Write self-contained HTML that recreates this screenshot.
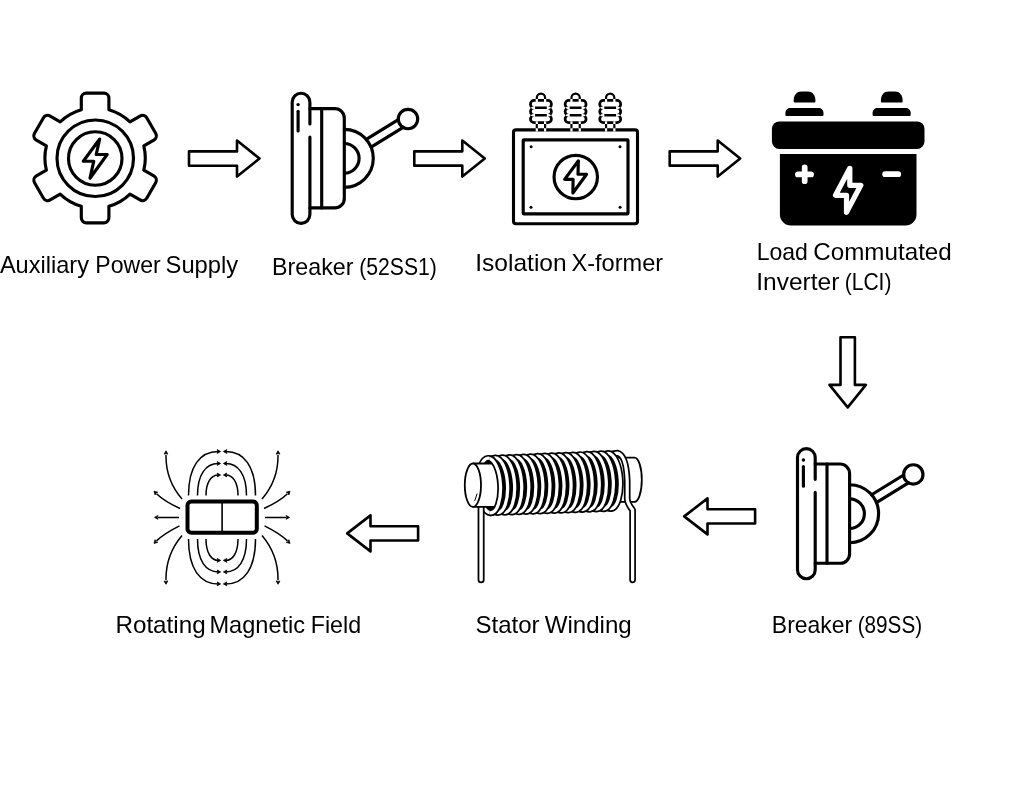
<!DOCTYPE html>
<html><head><meta charset="utf-8"><style>
html,body{margin:0;padding:0;background:#fff;width:1024px;height:800px;overflow:hidden}
svg{position:absolute;left:0;top:0;display:block;will-change:transform}
text{font-family:"Liberation Sans",sans-serif;fill:#000}
</style></head><body>
<svg width="1024" height="800" viewBox="0 0 1024 800">
<rect width="1024" height="800" fill="#fff"/>
<g fill="none" stroke="#000" stroke-width="3.15" stroke-linejoin="round" stroke-linecap="round">
<path d="M81.3,109.73L81.3,98.15A5,5 0 0 1 86.3,93.15L103.9,93.15A5,5 0 0 1 108.9,98.15L108.9,109.73A50.2,50.2 0 0 1 130,121.92L140.03,116.12A5,5 0 0 1 146.86,117.95L155.66,133.2A5,5 0 0 1 153.83,140.03L143.8,145.82A50.2,50.2 0 0 1 143.8,170.18L153.83,175.97A5,5 0 0 1 155.66,182.8L146.86,198.05A5,5 0 0 1 140.03,199.88L130,194.08A50.2,50.2 0 0 1 108.9,206.27L108.9,217.85A5,5 0 0 1 103.9,222.85L86.3,222.85A5,5 0 0 1 81.3,217.85L81.3,206.27A50.2,50.2 0 0 1 60.2,194.08L50.17,199.88A5,5 0 0 1 43.34,198.05L34.54,182.8A5,5 0 0 1 36.37,175.97L46.4,170.18A50.2,50.2 0 0 1 46.4,145.82L36.37,140.03A5,5 0 0 1 34.54,133.2L43.34,117.95A5,5 0 0 1 50.17,116.12L60.2,121.92A50.2,50.2 0 0 1 81.3,109.73Z"/>
<circle cx="95.25" cy="158.25" r="38.25"/>
<circle cx="95.25" cy="158.5" r="26.75"/>
<path d="M99.7,139L83.3,161.2L93.8,161.2L90,178.2L107.2,154.5L96.2,154.5Z"/>
</g>
<g fill="none" stroke="#000" stroke-width="2.6" stroke-linejoin="round">
<path d="M189,151.4L237,151.4L237,140.55L259.5,158.55L237,176.55L237,165.7L189,165.7Z"/>
<path d="M414.3,151.35L462.3,151.35L462.3,140.5L484.8,158.5L462.3,176.5L462.3,165.65L414.3,165.65Z"/>
<path d="M669.7,151.35L717.7,151.35L717.7,140.5L740.2,158.5L717.7,176.5L717.7,165.65L669.7,165.65Z"/>
<path d="M840.5,337.2L840.5,384.9L829.5,384.9L847.7,407.4L865.9,384.9L854.9,384.9L854.9,337.2Z"/>
<path d="M755.1,509.25L707.5,509.25L707.5,498.4L684.2,516.4L707.5,534.4L707.5,523.55L755.1,523.55Z"/>
<path d="M418.1,526.25L370.5,526.25L370.5,515.4L347.2,533.4L370.5,551.4L370.5,540.55L418.1,540.55Z"/>
</g>
<g fill="none" stroke="#000" stroke-width="3.15" stroke-linejoin="round" stroke-linecap="round">
<g transform="translate(0,0)">
<path d="M309.9,108.6H334.8A9.5,9.5 0 0 1 344.3,118.1V198.4A9.5,9.5 0 0 1 334.8,207.9H309.9"/>
<path d="M321.7,108.6V207.9"/>
<path d="M309.9,123.9V102.1A8.85,8.85 0 0 0 292.2,102.1V214.55A8.85,8.85 0 0 0 309.9,214.55V137"/>
<path d="M298.1,111.2V130.9"/><circle cx="298.1" cy="104.6" r="1.7" fill="#000" stroke="none"/>
<path d="M344.3,129.3A29,29 0 0 1 344.3,187.3"/>
<path d="M344.3,143.5A14.8,14.8 0 0 1 344.3,173.1"/>
<path d="M366.25,139.35L398.32,119.57M371.08,147.18L403.15,127.4"/>
<circle cx="408" cy="119" r="9.7"/>
</g>
<g transform="translate(505.3,355.4)">
<path d="M309.9,108.6H334.8A9.5,9.5 0 0 1 344.3,118.1V198.4A9.5,9.5 0 0 1 334.8,207.9H309.9"/>
<path d="M321.7,108.6V207.9"/>
<path d="M309.9,123.9V102.1A8.85,8.85 0 0 0 292.2,102.1V214.55A8.85,8.85 0 0 0 309.9,214.55V137"/>
<path d="M298.1,111.2V130.9"/><circle cx="298.1" cy="104.6" r="1.7" fill="#000" stroke="none"/>
<path d="M344.3,129.3A29,29 0 0 1 344.3,187.3"/>
<path d="M344.3,143.5A14.8,14.8 0 0 1 344.3,173.1"/>
<path d="M366.25,139.35L398.32,119.57M371.08,147.18L403.15,127.4"/>
<circle cx="408" cy="119" r="9.7"/>
</g>
</g>
<g fill="none" stroke="#000" stroke-width="3.15" stroke-linejoin="round" stroke-linecap="round">
<rect x="523.2" y="139.8" width="104.8" height="74.05" rx="0.5"/>
<circle cx="575.75" cy="177" r="21.7"/>
<path d="M578.4,160.75L564.65,179.35L573.1,179.35L572.9,193L586.6,174.25L578,174.25Z"/>
</g>
<path d="M516,128.35H635A4.05,4.05 0 0 1 639.05,132.4V221.3A4.05,4.05 0 0 1 635,225.35H516A4.05,4.05 0 0 1 511.95,221.3V132.4A4.05,4.05 0 0 1 516,128.35ZM516,131.45H635A0.95,0.95 0 0 1 635.95,132.4V221.3A0.95,0.95 0 0 1 635,222.25H516A0.95,0.95 0 0 1 515.05,221.3V132.4A0.95,0.95 0 0 1 516,131.45ZM535.7,101.8V97.75A5.25,5.25 0 0 1 546.2,97.75V101.8H544V97.75A3.05,3.05 0 0 0 537.9,97.75V101.8ZM534.16,99.1H547.74A5.06,5.06 0 0 1 552.8,104.16V104.16A5.06,5.06 0 0 1 547.74,109.22H534.16A5.06,5.06 0 0 1 529.1,104.16V104.16A5.06,5.06 0 0 1 534.16,99.1ZM534.16,101.8H547.74A2.36,2.36 0 0 1 550.1,104.16V104.16A2.36,2.36 0 0 1 547.74,106.52H534.16A2.36,2.36 0 0 1 531.8,104.16V104.16A2.36,2.36 0 0 1 534.16,101.8ZM534.15,106.52H547.75A5.05,5.05 0 0 1 552.8,111.58V111.58A5.05,5.05 0 0 1 547.75,116.63H534.15A5.05,5.05 0 0 1 529.1,111.58V111.58A5.05,5.05 0 0 1 534.15,106.52ZM534.16,109.22H547.75A2.36,2.36 0 0 1 550.1,111.58V111.58A2.36,2.36 0 0 1 547.75,113.93H534.16A2.36,2.36 0 0 1 531.8,111.58V111.58A2.36,2.36 0 0 1 534.16,109.22ZM534.16,113.93H547.74A5.06,5.06 0 0 1 552.8,118.99V118.99A5.06,5.06 0 0 1 547.74,124.05H534.16A5.06,5.06 0 0 1 529.1,118.99V118.99A5.06,5.06 0 0 1 534.16,113.93ZM534.16,116.63H547.74A2.36,2.36 0 0 1 550.1,118.99V118.99A2.36,2.36 0 0 1 547.74,121.35H534.16A2.36,2.36 0 0 1 531.8,118.99V118.99A2.36,2.36 0 0 1 534.16,116.63ZM535.05,106.62H546.85V109.12H535.05ZM535.05,114.03H546.85V116.53H535.05ZM535.7,121.6H537.9V131.3H535.7ZM544,121.6H546.2V131.3H544ZM570.35,101.8V97.75A5.25,5.25 0 0 1 580.85,97.75V101.8H578.65V97.75A3.05,3.05 0 0 0 572.55,97.75V101.8ZM568.81,99.1H582.39A5.06,5.06 0 0 1 587.45,104.16V104.16A5.06,5.06 0 0 1 582.39,109.22H568.81A5.06,5.06 0 0 1 563.75,104.16V104.16A5.06,5.06 0 0 1 568.81,99.1ZM568.81,101.8H582.39A2.36,2.36 0 0 1 584.75,104.16V104.16A2.36,2.36 0 0 1 582.39,106.52H568.81A2.36,2.36 0 0 1 566.45,104.16V104.16A2.36,2.36 0 0 1 568.81,101.8ZM568.8,106.52H582.4A5.05,5.05 0 0 1 587.45,111.58V111.58A5.05,5.05 0 0 1 582.4,116.63H568.8A5.05,5.05 0 0 1 563.75,111.58V111.58A5.05,5.05 0 0 1 568.8,106.52ZM568.81,109.22H582.39A2.36,2.36 0 0 1 584.75,111.58V111.58A2.36,2.36 0 0 1 582.39,113.93H568.81A2.36,2.36 0 0 1 566.45,111.58V111.58A2.36,2.36 0 0 1 568.81,109.22ZM568.81,113.93H582.39A5.06,5.06 0 0 1 587.45,118.99V118.99A5.06,5.06 0 0 1 582.39,124.05H568.81A5.06,5.06 0 0 1 563.75,118.99V118.99A5.06,5.06 0 0 1 568.81,113.93ZM568.81,116.63H582.39A2.36,2.36 0 0 1 584.75,118.99V118.99A2.36,2.36 0 0 1 582.39,121.35H568.81A2.36,2.36 0 0 1 566.45,118.99V118.99A2.36,2.36 0 0 1 568.81,116.63ZM569.7,106.62H581.5V109.12H569.7ZM569.7,114.03H581.5V116.53H569.7ZM570.35,121.6H572.55V131.3H570.35ZM578.65,121.6H580.85V131.3H578.65ZM604.95,101.8V97.75A5.25,5.25 0 0 1 615.45,97.75V101.8H613.25V97.75A3.05,3.05 0 0 0 607.15,97.75V101.8ZM603.41,99.1H616.99A5.06,5.06 0 0 1 622.05,104.16V104.16A5.06,5.06 0 0 1 616.99,109.22H603.41A5.06,5.06 0 0 1 598.35,104.16V104.16A5.06,5.06 0 0 1 603.41,99.1ZM603.41,101.8H616.99A2.36,2.36 0 0 1 619.35,104.16V104.16A2.36,2.36 0 0 1 616.99,106.52H603.41A2.36,2.36 0 0 1 601.05,104.16V104.16A2.36,2.36 0 0 1 603.41,101.8ZM603.4,106.52H617A5.05,5.05 0 0 1 622.05,111.58V111.58A5.05,5.05 0 0 1 617,116.63H603.4A5.05,5.05 0 0 1 598.35,111.58V111.58A5.05,5.05 0 0 1 603.4,106.52ZM603.41,109.22H617A2.36,2.36 0 0 1 619.35,111.58V111.58A2.36,2.36 0 0 1 617,113.93H603.41A2.36,2.36 0 0 1 601.05,111.58V111.58A2.36,2.36 0 0 1 603.41,109.22ZM603.41,113.93H616.99A5.06,5.06 0 0 1 622.05,118.99V118.99A5.06,5.06 0 0 1 616.99,124.05H603.41A5.06,5.06 0 0 1 598.35,118.99V118.99A5.06,5.06 0 0 1 603.41,113.93ZM603.41,116.63H616.99A2.36,2.36 0 0 1 619.35,118.99V118.99A2.36,2.36 0 0 1 616.99,121.35H603.41A2.36,2.36 0 0 1 601.05,118.99V118.99A2.36,2.36 0 0 1 603.41,116.63ZM604.3,106.62H616.1V109.12H604.3ZM604.3,114.03H616.1V116.53H604.3ZM604.95,121.6H607.15V131.3H604.95ZM613.25,121.6H615.45V131.3H613.25Z" fill="#000" fill-rule="evenodd" stroke="none"/>
<g fill="#000" stroke="none">
<circle cx="531.1" cy="146.7" r="1.5"/>
<circle cx="620" cy="146.7" r="1.5"/>
<circle cx="531" cy="207.2" r="1.5"/>
<circle cx="620.1" cy="207.2" r="1.5"/>
</g>
<g fill="#000">
<path d="M793.7,101.4V100.4C793.7,95 796.8,91.6 801.5,91.6H807.6C812.3,91.6 815.4,95 815.4,100.4V101.4Q815.4,102.4 814.4,102.4H794.7Q793.7,102.4 793.7,101.4Z"/>
<path d="M880.9,101.4V100.4C880.9,95 884,91.6 888.7,91.6H894.8C899.5,91.6 902.6,95 902.6,100.4V101.4Q902.6,102.4 901.6,102.4H881.9Q880.9,102.4 880.9,101.4Z"/>
<path d="M785.4,115V113C785.4,110 787.6,108 790.4,108H818.5C821.3,108 823.5,110 823.5,113V115Q823.5,116 822.5,116H786.4Q785.4,116 785.4,115Z"/>
<path d="M872.6,115V113C872.6,110 874.8,108 877.6,108H905.7C908.5,108 910.7,110 910.7,113V115Q910.7,116 909.7,116H873.6Q872.6,116 872.6,115Z"/>
<rect x="771.9" y="121.4" width="152.6" height="27.6" rx="7.5"/>
<path d="M779.9,153.9H916.5V214.5A11,11 0 0 1 905.5,225.5H790.9A11,11 0 0 1 779.9,214.5Z"/>
</g>
<g fill="none" stroke="#fff" stroke-width="5.7" stroke-linecap="round" stroke-linejoin="round">
<path d="M797.9,174.4H811.1M804.7,167.4V181.2M885.1,174.15H898.3"/>
</g>
<path d="M849.8,168.3L835.5,195.3L846.5,195.3L846.5,212.3L860.8,185.3L849.8,185.3Z" fill="none" stroke="#fff" stroke-width="5.2" stroke-linejoin="round"/>
<path d="M615,457.66H634.5A7.3,22.1 0 0 1 634.5,501.86H615Z" fill="#fff" stroke="#000" stroke-width="1.8"/>
<path d="M608.2,455.64Q613.2,453.14 617.2,453.14Q626.2,454.64 627.2,480.74V498.5Q627.2,503 632.6,510V579.8" fill="none" stroke="#000" stroke-width="6.7" stroke-linecap="round" stroke-linejoin="round"/>
<path d="M608.2,455.64Q613.2,453.14 617.2,453.14Q626.2,454.64 627.2,480.74V498.5Q627.2,503 632.6,510V579.8" fill="none" stroke="#fff" stroke-width="3.25" stroke-linecap="round" stroke-linejoin="round"/>
<ellipse cx="609.35" cy="481" rx="11" ry="27.69" transform="rotate(-3 609.35 481)" fill="#000" stroke="#000" stroke-width="6.7"/>
<ellipse cx="609.35" cy="481" rx="11" ry="27.69" transform="rotate(-3 609.35 481)" fill="none" stroke="#fff" stroke-width="3.25"/>
<ellipse cx="602.3" cy="481.26" rx="11" ry="27.67" transform="rotate(-3 602.3 481.26)" fill="#000" stroke="#000" stroke-width="6.7"/>
<ellipse cx="602.3" cy="481.26" rx="11" ry="27.67" transform="rotate(-3 602.3 481.26)" fill="none" stroke="#fff" stroke-width="3.25"/>
<ellipse cx="595.25" cy="481.53" rx="11" ry="27.65" transform="rotate(-3 595.25 481.53)" fill="#000" stroke="#000" stroke-width="6.7"/>
<ellipse cx="595.25" cy="481.53" rx="11" ry="27.65" transform="rotate(-3 595.25 481.53)" fill="none" stroke="#fff" stroke-width="3.25"/>
<ellipse cx="588.2" cy="481.8" rx="11" ry="27.63" transform="rotate(-3 588.2 481.8)" fill="#000" stroke="#000" stroke-width="6.7"/>
<ellipse cx="588.2" cy="481.8" rx="11" ry="27.63" transform="rotate(-3 588.2 481.8)" fill="none" stroke="#fff" stroke-width="3.25"/>
<ellipse cx="581.15" cy="482.07" rx="11" ry="27.61" transform="rotate(-3 581.15 482.07)" fill="#000" stroke="#000" stroke-width="6.7"/>
<ellipse cx="581.15" cy="482.07" rx="11" ry="27.61" transform="rotate(-3 581.15 482.07)" fill="none" stroke="#fff" stroke-width="3.25"/>
<ellipse cx="574.1" cy="482.34" rx="11" ry="27.59" transform="rotate(-3 574.1 482.34)" fill="#000" stroke="#000" stroke-width="6.7"/>
<ellipse cx="574.1" cy="482.34" rx="11" ry="27.59" transform="rotate(-3 574.1 482.34)" fill="none" stroke="#fff" stroke-width="3.25"/>
<ellipse cx="567.05" cy="482.6" rx="11" ry="27.57" transform="rotate(-3 567.05 482.6)" fill="#000" stroke="#000" stroke-width="6.7"/>
<ellipse cx="567.05" cy="482.6" rx="11" ry="27.57" transform="rotate(-3 567.05 482.6)" fill="none" stroke="#fff" stroke-width="3.25"/>
<ellipse cx="560" cy="482.87" rx="11" ry="27.55" transform="rotate(-3 560 482.87)" fill="#000" stroke="#000" stroke-width="6.7"/>
<ellipse cx="560" cy="482.87" rx="11" ry="27.55" transform="rotate(-3 560 482.87)" fill="none" stroke="#fff" stroke-width="3.25"/>
<ellipse cx="552.95" cy="483.14" rx="11" ry="27.53" transform="rotate(-3 552.95 483.14)" fill="#000" stroke="#000" stroke-width="6.7"/>
<ellipse cx="552.95" cy="483.14" rx="11" ry="27.53" transform="rotate(-3 552.95 483.14)" fill="none" stroke="#fff" stroke-width="3.25"/>
<ellipse cx="545.9" cy="483.41" rx="11" ry="27.51" transform="rotate(-3 545.9 483.41)" fill="#000" stroke="#000" stroke-width="6.7"/>
<ellipse cx="545.9" cy="483.41" rx="11" ry="27.51" transform="rotate(-3 545.9 483.41)" fill="none" stroke="#fff" stroke-width="3.25"/>
<ellipse cx="538.85" cy="483.67" rx="11" ry="27.49" transform="rotate(-3 538.85 483.67)" fill="#000" stroke="#000" stroke-width="6.7"/>
<ellipse cx="538.85" cy="483.67" rx="11" ry="27.49" transform="rotate(-3 538.85 483.67)" fill="none" stroke="#fff" stroke-width="3.25"/>
<ellipse cx="531.8" cy="483.94" rx="11" ry="27.47" transform="rotate(-3 531.8 483.94)" fill="#000" stroke="#000" stroke-width="6.7"/>
<ellipse cx="531.8" cy="483.94" rx="11" ry="27.47" transform="rotate(-3 531.8 483.94)" fill="none" stroke="#fff" stroke-width="3.25"/>
<ellipse cx="524.75" cy="484.21" rx="11" ry="27.45" transform="rotate(-3 524.75 484.21)" fill="#000" stroke="#000" stroke-width="6.7"/>
<ellipse cx="524.75" cy="484.21" rx="11" ry="27.45" transform="rotate(-3 524.75 484.21)" fill="none" stroke="#fff" stroke-width="3.25"/>
<ellipse cx="517.7" cy="484.48" rx="11" ry="27.43" transform="rotate(-3 517.7 484.48)" fill="#000" stroke="#000" stroke-width="6.7"/>
<ellipse cx="517.7" cy="484.48" rx="11" ry="27.43" transform="rotate(-3 517.7 484.48)" fill="none" stroke="#fff" stroke-width="3.25"/>
<ellipse cx="510.65" cy="484.75" rx="11" ry="27.41" transform="rotate(-3 510.65 484.75)" fill="#000" stroke="#000" stroke-width="6.7"/>
<ellipse cx="510.65" cy="484.75" rx="11" ry="27.41" transform="rotate(-3 510.65 484.75)" fill="none" stroke="#fff" stroke-width="3.25"/>
<ellipse cx="503.6" cy="485.01" rx="11" ry="27.39" transform="rotate(-3 503.6 485.01)" fill="#000" stroke="#000" stroke-width="6.7"/>
<ellipse cx="503.6" cy="485.01" rx="11" ry="27.39" transform="rotate(-3 503.6 485.01)" fill="none" stroke="#fff" stroke-width="3.25"/>
<ellipse cx="496.55" cy="485.28" rx="11" ry="27.37" transform="rotate(-3 496.55 485.28)" fill="#000" stroke="#000" stroke-width="6.7"/>
<ellipse cx="496.55" cy="485.28" rx="11" ry="27.37" transform="rotate(-3 496.55 485.28)" fill="none" stroke="#fff" stroke-width="3.25"/>
<ellipse cx="489.5" cy="485.55" rx="11" ry="27.35" transform="rotate(-3 489.5 485.55)" fill="#000" stroke="#000" stroke-width="6.7"/>
<ellipse cx="489.5" cy="485.55" rx="11" ry="27.35" transform="rotate(-3 489.5 485.55)" fill="none" stroke="#fff" stroke-width="3.25"/>
<path d="M481.1,505V579.8" fill="none" stroke="#000" stroke-width="7" stroke-linecap="round"/>
<path d="M481.1,505V579.8" fill="none" stroke="#fff" stroke-width="3.5" stroke-linecap="round"/>
<clipPath id="corec"><rect x="460" y="440" width="29.5" height="90"/><ellipse cx="489.5" cy="485.55" rx="11" ry="27.35" transform="rotate(-3 489.5 485.55)"/></clipPath>
<g clip-path="url(#corec)">
<path d="M472.9,463.5H502V506.9H472.9Z" fill="#fff" stroke="none"/>
<path d="M472.9,463.5H502M472.9,506.9H502" fill="none" stroke="#000" stroke-width="1.8"/>
</g>
<ellipse cx="472.9" cy="485.2" rx="8.1" ry="21.7" fill="#fff" stroke="#000" stroke-width="1.8"/>
<path d="M477,494L474.8,500.5" fill="none" stroke="#000" stroke-width="1" stroke-linecap="round"/>
<clipPath id="r0"><rect x="489.5" y="440" width="40" height="90"/></clipPath>
<g clip-path="url(#r0)">
<ellipse cx="489.5" cy="485.55" rx="11" ry="27.35" transform="rotate(-3 489.5 485.55)" fill="none" stroke="#000" stroke-width="6.7"/>
<ellipse cx="489.5" cy="485.55" rx="11" ry="27.35" transform="rotate(-3 489.5 485.55)" fill="none" stroke="#fff" stroke-width="3.25"/>
</g>
<path d="M206,495.5C206,481.97 211.44,475 218.2,475M238,495.5C238,481.97 232.56,475 225.8,475M206,539C206,553.12 211.44,560.4 218.2,560.4M238,539C238,553.12 232.56,560.4 225.8,560.4M197.5,495.5C197.5,474.38 205.83,463.5 218.2,463.5M246.5,495.5C246.5,474.38 238.17,463.5 225.8,463.5M197.5,539C197.5,560.71 205.83,571.9 218.2,571.9M246.5,539C246.5,560.71 238.17,571.9 225.8,571.9M188.5,495.5C188.5,466.46 199.89,451.5 218.2,451.5M255.5,495.5C255.5,466.46 244.11,451.5 225.8,451.5M188.5,539C188.5,568.63 199.89,583.9 218.2,583.9M255.5,539C255.5,568.63 244.11,583.9 225.8,583.9M179,517.4L157.5,517.4M180,508.5Q164,501 156.5,493.7M179.5,525.8Q164,533.5 156.5,540.9M182,499Q165.5,480 166,454.8M182,535.5Q165.5,555 166,580.3M265,517.4L286.5,517.4M264,508.5Q280,501 287.5,493.7M264.5,525.8Q280,533.5 287.5,540.9M262,499Q278.5,480 278,454.8M262,535.5Q278.5,555 278,580.3" fill="none" stroke="#000" stroke-width="1.5"/>
<path d="M220.6,475L217.2,476.9L218.15,475L217.2,473.1ZM223.4,475L226.8,473.1L225.85,475L226.8,476.9ZM220.6,560.4L217.2,562.3L218.15,560.4L217.2,558.5ZM223.4,560.4L226.8,558.5L225.85,560.4L226.8,562.3ZM220.6,463.5L217.2,465.4L218.15,463.5L217.2,461.6ZM223.4,463.5L226.8,461.6L225.85,463.5L226.8,465.4ZM220.6,571.9L217.2,573.8L218.15,571.9L217.2,570ZM223.4,571.9L226.8,570L225.85,571.9L226.8,573.8ZM220.6,451.5L217.2,453.4L218.15,451.5L217.2,449.6ZM223.4,451.5L226.8,449.6L225.85,451.5L226.8,453.4ZM220.6,583.9L217.2,585.8L218.15,583.9L217.2,582ZM223.4,583.9L226.8,582L225.85,583.9L226.8,585.8ZM154.5,517.4L157.9,515.5L156.95,517.4L157.9,519.3ZM154,491.2L157.76,492.22L155.75,492.91L155.1,494.94ZM154,543.4L155.08,539.66L155.74,541.68L157.75,542.36ZM166,450.8L167.84,454.23L165.96,453.25L164.04,454.17ZM166,584.3L164.04,580.93L165.96,581.85L167.84,580.87ZM289.5,517.4L286.1,519.3L287.05,517.4L286.1,515.5ZM290,491.2L288.9,494.94L288.25,492.91L286.24,492.22ZM290,543.4L286.25,542.36L288.26,541.68L288.92,539.66ZM278,450.8L279.96,454.17L278.04,453.25L276.16,454.23ZM278,584.3L276.16,580.87L278.04,581.85L279.96,580.93Z" fill="#000" stroke="#000" stroke-width="0.8" stroke-linejoin="round"/>
<rect x="187.5" y="501.5" width="69.3" height="31.3" rx="3.8" fill="none" stroke="#000" stroke-width="4"/>
<path d="M222.1,501.5V532.8" stroke="#000" stroke-width="1.6"/>
<text x="-0.10" y="273.4" font-size="24" textLength="89.04" lengthAdjust="spacingAndGlyphs">Auxiliary</text>
<text x="95.31" y="273.4" font-size="24" textLength="65.35" lengthAdjust="spacingAndGlyphs">Power</text>
<text x="165.59" y="273.4" font-size="24" textLength="72.61" lengthAdjust="spacingAndGlyphs">Supply</text>
<text x="272.11" y="275.0" font-size="24" textLength="81.45" lengthAdjust="spacingAndGlyphs">Breaker</text>
<text x="359.26" y="275.0" font-size="24" textLength="77.66" lengthAdjust="spacingAndGlyphs">(52SS1)</text>
<text x="475.31" y="271.4" font-size="24" textLength="91.30" lengthAdjust="spacingAndGlyphs">Isolation</text>
<text x="571.41" y="271.4" font-size="24" textLength="91.73" lengthAdjust="spacingAndGlyphs">X-former</text>
<text x="756.70" y="259.9" font-size="24" textLength="51.19" lengthAdjust="spacingAndGlyphs">Load</text>
<text x="813.30" y="259.9" font-size="24" textLength="138.48" lengthAdjust="spacingAndGlyphs">Commutated</text>
<text x="756.27" y="289.9" font-size="24" textLength="83.11" lengthAdjust="spacingAndGlyphs">Inverter</text>
<text x="844.66" y="289.9" font-size="24" textLength="46.85" lengthAdjust="spacingAndGlyphs">(LCI)</text>
<text x="771.85" y="632.5" font-size="24" textLength="80.35" lengthAdjust="spacingAndGlyphs">Breaker</text>
<text x="857.68" y="632.5" font-size="24" textLength="64.43" lengthAdjust="spacingAndGlyphs">(89SS)</text>
<text x="475.54" y="632.6" font-size="24" textLength="64.07" lengthAdjust="spacingAndGlyphs">Stator</text>
<text x="544.67" y="632.6" font-size="24" textLength="87.10" lengthAdjust="spacingAndGlyphs">Winding</text>
<text x="115.44" y="632.9" font-size="24" textLength="90.19" lengthAdjust="spacingAndGlyphs">Rotating</text>
<text x="209.44" y="632.9" font-size="24" textLength="95.64" lengthAdjust="spacingAndGlyphs">Magnetic</text>
<text x="310.69" y="632.9" font-size="24" textLength="50.40" lengthAdjust="spacingAndGlyphs">Field</text>
</svg></body></html>
